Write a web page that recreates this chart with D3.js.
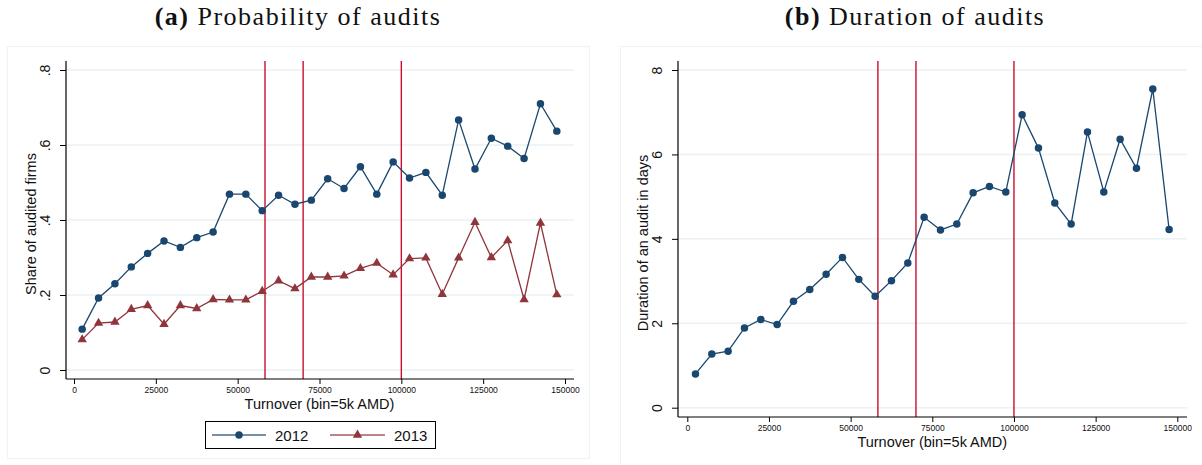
<!DOCTYPE html>
<html>
<head>
<meta charset="utf-8">
<script src="https://cdn.jsdelivr.net/npm/d3@7"></script>
<style>
  html, body { margin: 0; padding: 0; background: #ffffff; }
  svg { display: block; }
</style>
</head>
<body>
<svg id="chart" width="1202" height="465"></svg>
<script>
// Turnover bins (5k AMD wide), bin midpoints
const bins = d3.range(30).map(i => 2500 + 5000 * i);

// Panel (a): share of audited firms by turnover bin
const share2012 = [0.109, 0.192, 0.230, 0.275, 0.311, 0.344, 0.327, 0.353, 0.368, 0.469,
                   0.469, 0.425, 0.466, 0.442, 0.453, 0.510, 0.484, 0.542, 0.469, 0.555,
                   0.512, 0.527, 0.466, 0.667, 0.536, 0.618, 0.597, 0.564, 0.710, 0.637];
const share2013 = [0.081, 0.125, 0.128, 0.162, 0.172, 0.122, 0.172, 0.164, 0.188, 0.187,
                   0.187, 0.210, 0.238, 0.217, 0.248, 0.248, 0.251, 0.271, 0.285, 0.254,
                   0.297, 0.299, 0.202, 0.299, 0.394, 0.300, 0.345, 0.188, 0.392, 0.201];

// Panel (b): average audit duration in days
const duration = [0.80, 1.27, 1.34, 1.89, 2.09, 1.97, 2.52, 2.80, 3.16, 3.56,
                  3.04, 2.64, 3.01, 3.43, 4.51, 4.21, 4.35, 5.09, 5.24, 5.11,
                  6.94, 6.15, 4.85, 4.35, 6.53, 5.11, 6.36, 5.67, 7.55, 4.22];

// Policy thresholds (turnover, thousand AMD)
const thresholds = [58350, 70000, 100000];

const xTicks = [0, 25000, 50000, 75000, 100000, 125000, 150000];
const shareTicks = [0, 0.2, 0.4, 0.6, 0.8];
const shareTickLabels = ["0", ".2", ".4", ".6", ".8"];
const durationTicks = [0, 2, 4, 6, 8];
const seriesNames = ["2012", "2013"];

const BLUE = "#1a476f", RED = "#90353b", VLINE = "#c8102e", GRID = "#eaf2f3";
const SANS = "'Liberation Sans', Arial, sans-serif";
const SERIF = "'Liberation Serif', 'Times New Roman', serif";

const svg = d3.select("#chart");

// panel frames
svg.append("rect").attr("x", 7.5).attr("y", 46.5).attr("width", 582).attr("height", 412)
  .attr("fill", "#fff").attr("stroke", "#eef3f5").attr("stroke-width", 1.2);
svg.append("rect").attr("x", 620.5).attr("y", 46.5).attr("width", 600).attr("height", 430)
  .attr("fill", "#fff").attr("stroke", "#eef3f5").attr("stroke-width", 1.2);

// titles
function title(cx, label, text) {
  const t = svg.append("text").attr("x", cx).attr("y", 25).attr("text-anchor", "middle")
    .attr("font-family", SERIF).attr("font-size", 26).attr("letter-spacing", 1.5).attr("fill", "#111");
  t.append("tspan").attr("font-weight", "bold").text(label + " ");
  t.append("tspan").text(text);
}
title(298, "(a)", "Probability of audits");
title(915, "(b)", "Duration of audits");

function panel(cfg) {
  const g = svg.append("g");
  const x = d3.scaleLinear().domain([0, 150000]).range(cfg.xr);
  const y = d3.scaleLinear().domain(cfg.ydom).range(cfg.yr);

  // horizontal grid
  g.selectAll("line.grid").data(cfg.yTicks).join("line")
    .attr("x1", cfg.axisX).attr("x2", cfg.axisRight)
    .attr("y1", d => y(d)).attr("y2", d => y(d))
    .attr("stroke", GRID).attr("stroke-width", 1.5);

  // threshold lines
  g.selectAll("line.thr").data(thresholds).join("line")
    .attr("x1", d => x(d)).attr("x2", d => x(d))
    .attr("y1", cfg.axisTop).attr("y2", cfg.axisY)
    .attr("stroke", VLINE).attr("stroke-width", 1.4);

  // y axis
  const ya = g.append("g").attr("transform", `translate(${cfg.axisX},0)`)
    .call(d3.axisLeft(y).tickValues(cfg.yTicks).tickSize(6).tickSizeOuter(0)
      .tickFormat((d, i) => cfg.yLabels[i]));
  ya.select(".domain").attr("d", `M0,${cfg.axisTop}V${cfg.axisY}`).attr("stroke", "#000").attr("stroke-width", 1.2);
  ya.selectAll(".tick line").attr("stroke", "#000").attr("stroke-width", 1);
  ya.selectAll(".tick text")
    .attr("font-family", SANS).attr("font-size", 14).attr("fill", "#111")
    .attr("x", null).attr("dy", null).attr("text-anchor", "middle")
    .attr("transform", "translate(-16,0) rotate(-90)");

  // x axis
  const xa = g.append("g").attr("transform", `translate(0,${cfg.axisY})`)
    .call(d3.axisBottom(x).tickValues(xTicks).tickSize(5).tickSizeOuter(0).tickFormat(d3.format("d")));
  xa.select(".domain").attr("d", `M${cfg.axisX},0H${cfg.axisRight}`).attr("stroke", "#000").attr("stroke-width", 1.2);
  xa.selectAll(".tick line").attr("stroke", "#000");
  xa.selectAll(".tick text").attr("font-family", SANS).attr("font-size", 8.5).attr("fill", "#111")
    .attr("y", 8).attr("dy", "0.71em");

  // axis titles
  g.append("text").attr("x", (cfg.xr[0] + cfg.xr[1]) / 2).attr("y", cfg.axisY + 30)
    .attr("text-anchor", "middle").attr("font-family", SANS).attr("font-size", 14.5).attr("fill", "#111")
    .text("Turnover (bin=5k AMD)");
  g.append("text").attr("transform", `translate(${cfg.ytitleX},${(cfg.axisTop + cfg.axisY) / 2 + 4}) rotate(-90)`)
    .attr("text-anchor", "middle").attr("font-family", SANS).attr("font-size", 14.5).attr("fill", "#111")
    .text(cfg.ytitle);

  return { g, x, y };
}

function drawSeries(p, values, color, shape) {
  const pts = bins.map((b, i) => [b, values[i]]);
  p.g.append("path").datum(pts)
    .attr("d", d3.line().x(d => p.x(d[0])).y(d => p.y(d[1])))
    .attr("fill", "none").attr("stroke", color).attr("stroke-width", 1.3);
  const sym = shape === "circle" ? d3.symbol(d3.symbolCircle, 44) : d3.symbol(d3.symbolTriangle, 38);
  p.g.selectAll(null).data(pts).join("path")
    .attr("transform", d => `translate(${p.x(d[0])},${p.y(d[1])})`)
    .attr("d", sym).attr("fill", color);
}

// Panel (a)
const pa = panel({
  xr: [74, 565], ydom: [0, 0.8], yr: [370, 70],
  axisX: 66, axisRight: 574, axisTop: 61, axisY: 379,
  yTicks: shareTicks, yLabels: shareTickLabels,
  ytitle: "Share of audited firms", ytitleX: 36
});
drawSeries(pa, share2012, BLUE, "circle");
drawSeries(pa, share2013, RED, "triangle");

// Panel (b)
const pb = panel({
  xr: [687.3, 1177.3], ydom: [0, 8], yr: [407.7, 70],
  axisX: 678, axisRight: 1187, axisTop: 61, axisY: 417,
  yTicks: durationTicks, yLabels: durationTicks.map(String),
  ytitle: "Duration of an audit in days", ytitleX: 648
});
drawSeries(pb, duration, BLUE, "circle");

// Legend for panel (a)
const lg = svg.append("g");
lg.append("rect").attr("x", 205.5).attr("y", 421.5).attr("width", 230).attr("height", 27)
  .attr("fill", "#fff").attr("stroke", "#000").attr("stroke-width", 1);
const legendItems = [
  { name: seriesNames[0], color: BLUE, sym: d3.symbol(d3.symbolCircle, 44), x0: 212, x1: 266, tx: 275 },
  { name: seriesNames[1], color: RED, sym: d3.symbol(d3.symbolTriangle, 38), x0: 330, x1: 385, tx: 394 }
];
legendItems.forEach(it => {
  lg.append("line").attr("x1", it.x0).attr("x2", it.x1).attr("y1", 435).attr("y2", 435)
    .attr("stroke", it.color).attr("stroke-width", 1.3).attr("stroke-opacity", 0.8);
  lg.append("path").attr("transform", `translate(${(it.x0 + it.x1) / 2},435)`).attr("d", it.sym).attr("fill", it.color);
  lg.append("text").attr("x", it.tx).attr("y", 440.5).attr("font-family", SANS).attr("font-size", 15)
    .attr("fill", "#111").text(it.name);
});
</script>
</body>
</html>
